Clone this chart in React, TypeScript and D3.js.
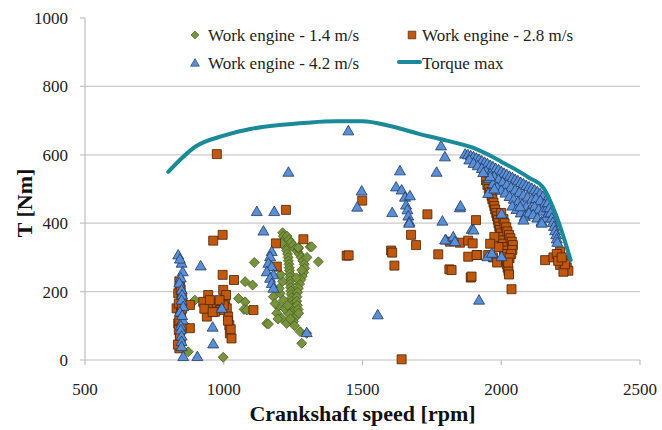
import React from 'react';
import * as d3 from 'd3';

const W = 662;
const H = 430;

const rpmTicks = [500, 1000, 1500, 2000, 2500];
const torqueTicks = [0, 200, 400, 600, 800, 1000];

const seriesNames = ['Work engine - 1.4 m/s', 'Work engine - 2.8 m/s', 'Work engine - 4.2 m/s', 'Torque max'];

const torqueMax: [number, number][] = [
  [800, 550], [900, 625], [1000, 656], [1100, 676], [1200, 687], [1300, 694], [1400, 698],
  [1500, 698], [1600, 684], [1700, 662], [1800, 642], [1900, 620], [2000, 580], [2100, 533],
  [2150, 505], [2200, 418], [2250, 292],
];

const engine14: [number, number][] = [
  [872, 24], [896, 175], [998, 8], [1053, 180], [1077, 170], [1073, 148], [1077, 229], [1104, 219],
  [1110, 285], [1083, 146], [1155, 107], [1161, 105],
  [1212, 372], [1215, 362], [1218, 351], [1221, 340], [1224, 330], [1227, 320], [1230, 310], [1232, 300],
  [1233, 290], [1235, 280], [1236, 270], [1237, 262], [1238, 252], [1239, 242], [1240, 232], [1240, 222],
  [1241, 212], [1242, 202], [1243, 192], [1245, 182], [1246, 172], [1248, 162], [1250, 152], [1252, 142],
  [1255, 132], [1258, 125],
  [1228, 362], [1235, 352], [1242, 344], [1250, 335], [1258, 326], [1265, 318], [1272, 310], [1279, 300],
  [1285, 290], [1290, 280], [1292, 268], [1288, 256], [1283, 245], [1278, 235], [1273, 222], [1269, 210],
  [1266, 198], [1264, 185], [1263, 172], [1265, 160], [1268, 148], [1270, 137],
  [1311, 331], [1341, 287], [1209, 341], [1269, 326], [1203, 195], [1215, 175], [1197, 156], [1191, 137],
  [1209, 122], [1233, 137], [1275, 83], [1281, 49], [1299, 78], [1179, 185], [1227, 107], [1251, 112],
  [1281, 263], [1200, 210], [1220, 150], [1185, 165], [1240, 120], [1255, 100], [1195, 120], [1230, 160],
  [1212, 230], [1205, 250], [1262, 240], [1300, 300], [1317, 331], [1269, 329],
];

const engine28: [number, number][] = [
  [842, 219], [836, 195], [848, 175], [830, 151], [842, 127], [836, 107], [842, 78], [845, 54], [840, 34],
  [878, 161], [878, 93], [840, 230], [845, 205], [850, 185], [838, 165], [846, 140], [840, 115], [848, 95],
  [838, 88], [842, 65], [835, 45], [850, 150],
  [962, 349], [996, 366], [996, 249], [1037, 234], [944, 190], [926, 170], [939, 127], [957, 161],
  [998, 205], [1005, 175], [1011, 151], [1016, 127], [1020, 102], [1022, 78], [1028, 63], [975, 166],
  [987, 146], [969, 141], [1107, 146], [930, 150], [950, 175], [1008, 190], [1000, 160], [985, 175],
  [960, 140], [1025, 90], [1015, 115],
  [975, 602], [1224, 439], [1287, 353], [1443, 305], [1188, 341], [1191, 273], [1499, 466], [1734, 426],
  [1675, 366], [1693, 336], [1450, 306], [1603, 320], [1607, 314], [1615, 276], [1773, 309], [1813, 265],
  [1641, 2], [1821, 263], [1890, 241], [1815, 346], [1851, 343], [1881, 349], [1897, 341], [1881, 302],
  [1914, 307], [1909, 409], [1893, 244], [1911, 307], [1953, 307], [2037, 207],
  [1945, 526], [1950, 512], [1955, 500], [1960, 490], [1965, 480], [1968, 470], [1972, 460], [1975, 450],
  [1978, 440], [1982, 430], [1985, 420], [1988, 410], [1990, 400], [1993, 390], [1995, 380], [1998, 370],
  [2000, 360], [2003, 350], [2005, 340], [2008, 330], [2010, 320], [2012, 310], [2015, 300], [2018, 290],
  [2020, 280], [2023, 270], [2026, 260], [2028, 250],
  [2000, 430], [2008, 412], [2012, 400], [2018, 388], [2022, 376], [2028, 366], [2033, 356], [2038, 346],
  [2042, 336], [2040, 322], [2036, 310], [2030, 298], [2025, 285],
  [1990, 330], [1975, 360], [1970, 300], [1985, 285], [1960, 340],
  [2158, 292], [2188, 300], [2212, 317], [2224, 292], [2212, 278], [2236, 271], [2242, 261], [2224, 258],
  [2200, 310], [2230, 280], [2205, 290], [2218, 300],
];

const engine42: [number, number][] = [
  [836, 307], [848, 283], [852, 258], [845, 240], [840, 225], [848, 205], [850, 190], [848, 175], [854, 156],
  [842, 140], [852, 117], [845, 100], [845, 88], [848, 70], [848, 54], [848, 39], [854, 10], [905, 10],
  [917, 275], [993, 151], [960, 96], [962, 47], [842, 295], [850, 130],
  [1233, 549], [1119, 434], [1182, 434], [1143, 377], [1173, 317], [1167, 302], [1161, 283], [1173, 273],
  [1155, 258], [1179, 249], [1167, 239], [1173, 224], [1179, 210], [1299, 80], [1449, 670], [1783, 626],
  [1797, 594], [1767, 549], [1635, 553], [1497, 494], [1481, 447], [1621, 506], [1641, 497], [1653, 476],
  [1671, 480], [1657, 453], [1662, 439], [1665, 421], [1669, 404], [1668, 400], [1607, 431], [1788, 406],
  [1801, 351], [1555, 132], [1851, 445], [1894, 382], [1798, 351], [1827, 360], [1833, 346], [1920, 175],
  [1950, 302], [2001, 302], [1966, 312], [1953, 487], [2001, 427], [1900, 380], [1853, 450],
  [1870, 602], [1880, 600], [1890, 597], [1900, 594], [1910, 590], [1920, 586], [1930, 582], [1940, 578],
  [1950, 574], [1960, 569], [1970, 565], [1980, 560], [1990, 556], [2000, 551], [2010, 546], [2020, 542],
  [2030, 537], [2040, 533], [2050, 528], [2060, 524], [2070, 519], [2080, 515], [2090, 510], [2100, 506],
  [2110, 502], [2120, 497], [2130, 492], [2140, 486], [2150, 478], [2160, 465],
  [1885, 585], [1900, 575], [1915, 568], [1930, 560], [1945, 552], [1960, 545], [1975, 536], [1990, 528],
  [2005, 520], [2020, 512], [2035, 505], [2050, 497], [2065, 490], [2080, 482], [2095, 476], [2110, 470],
  [2125, 472], [2140, 466], [2155, 455],
  [1955, 530], [1970, 515], [1985, 505], [2000, 496], [2015, 488], [2030, 478], [2045, 470], [2060, 462],
  [2075, 455], [2090, 448], [2105, 442], [2120, 448], [2135, 440], [2150, 435], [2165, 445],
  [2040, 450], [2055, 440], [2070, 430], [2085, 420], [2100, 430], [2115, 425], [2130, 415], [2145, 405],
  [2160, 415], [2170, 430],
  [2168, 460], [2174, 445], [2178, 430], [2182, 415], [2186, 402], [2190, 390], [2194, 378], [2198, 366],
  [2200, 354], [2202, 344],
  [2068, 448], [2080, 409], [2146, 400], [1960, 536], [1935, 548], [1975, 500],
];

const DIAMOND = 'M0,-5L5,0L0,5L-5,0Z';
const SQUARE = 'M-4.5,-4.5H4.5V4.5H-4.5Z';
const TRIANGLE = 'M0,-5.5L5.5,4L-5.5,4Z';

const FONT = '"Liberation Serif", "Times New Roman", serif';
const LINE_COLOR = '#1a8a99';

export default function App() {
  const x = d3.scaleLinear().domain([500, 2500]).range([85, 640]);
  const y = d3.scaleLinear().domain([0, 1000]).range([360, 18]);
  const line = d3
    .line<[number, number]>()
    .x((d) => x(d[0]))
    .y((d) => y(d[1]))
    .curve(d3.curveMonotoneX);

  const series = [
    { data: engine14, path: DIAMOND, fill: '#77933c', stroke: '#4a5e22' },
    { data: engine28, path: SQUARE, fill: '#c0580f', stroke: '#4a2306' },
    { data: engine42, path: TRIANGLE, fill: '#5a8fd6', stroke: '#1f3a66' },
  ];

  return (
    <svg
      width={W}
      height={H}
      style={{ position: 'absolute', left: 0, top: 0, background: '#fff' }}
      fontFamily={FONT}
    >
      <rect x={0} y={0} width={W} height={H} fill="#fff" />
      {torqueTicks
        .filter((t) => t > 0 && t < 1000)
        .map((t) => (
          <line key={t} x1={x(500) - 5} x2={x(2500)} y1={y(t)} y2={y(t)} stroke="#c9c9c9" strokeWidth={1.2} />
        ))}
      <line x1={x(500) - 5} x2={x(500)} y1={y(1000)} y2={y(1000)} stroke="#bfbfbf" strokeWidth={1.2} />
      <line x1={x(500)} x2={x(500)} y1={y(1000)} y2={y(0)} stroke="#bfbfbf" strokeWidth={1.2} />
      <line x1={x(500) - 5} x2={x(2500)} y1={y(0)} y2={y(0)} stroke="#bfbfbf" strokeWidth={1.2} />
      {rpmTicks.map((t) => (
        <line key={t} x1={x(t)} x2={x(t)} y1={y(0)} y2={y(0) + 5} stroke="#bfbfbf" strokeWidth={1.2} />
      ))}
      {torqueTicks.map((t) => (
        <text key={t} x={68} y={y(t)} dy="0.35em" textAnchor="end" fontSize={17} fill="#222">
          {t}
        </text>
      ))}
      {rpmTicks.map((t) => (
        <text key={t} x={x(t)} y={395} textAnchor="middle" fontSize={17} fill="#222">
          {t}
        </text>
      ))}
      <text x={(x(500) + x(2500)) / 2} y={421} textAnchor="middle" fontSize={22} fontWeight="bold" fill="#111">
        Crankshaft speed [rpm]
      </text>
      <text
        transform={`translate(32,${203}) rotate(-90)`}
        textAnchor="middle"
        fontSize={22}
        fontWeight="bold"
        fill="#111"
      >
        T [Nm]
      </text>

      {series.map((s, i) => (
        <g key={i}>
          {s.data.map((d, j) => (
            <path
              key={j}
              d={s.path}
              transform={`translate(${x(d[0])},${y(d[1])})`}
              fill={s.fill}
              stroke={s.stroke}
              strokeWidth={0.8}
            />
          ))}
        </g>
      ))}

      <path d={line(torqueMax) || ''} fill="none" stroke={LINE_COLOR} strokeWidth={4} strokeLinejoin="round" strokeLinecap="round" />

      <g fontSize={17} fill="#222">
        <path d={DIAMOND} transform="translate(195,35) scale(0.8)" fill={series[0].fill} stroke={series[0].stroke} strokeWidth={0.8} />
        <text x={208} y={41}>{seriesNames[0]}</text>
        <path d={SQUARE} transform="translate(412,35) scale(0.85)" fill={series[1].fill} stroke={series[1].stroke} strokeWidth={0.8} />
        <text x={422} y={41}>{seriesNames[1]}</text>
        <path d={TRIANGLE} transform="translate(195,63) scale(0.8)" fill={series[2].fill} stroke={series[2].stroke} strokeWidth={0.8} />
        <text x={208} y={69}>{seriesNames[2]}</text>
        <line x1={399} x2={420} y1={62} y2={62} stroke={LINE_COLOR} strokeWidth={4} strokeLinecap="round" />
        <text x={422} y={69}>{seriesNames[3]}</text>
      </g>
    </svg>
  );
}
